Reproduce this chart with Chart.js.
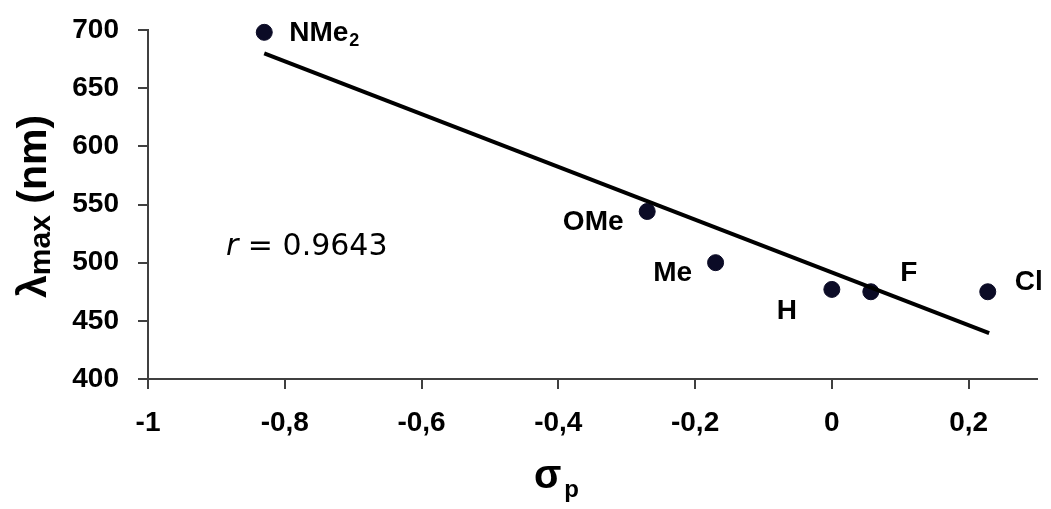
<!DOCTYPE html>
<html>
<head>
<meta charset="utf-8">
<script src="https://cdn.jsdelivr.net/npm/chart.js@4.4.0/dist/chart.umd.min.js"></script>
<style>
  body { margin: 0; background: #fff; }
  #wrap { width: 1051px; height: 509px; }
</style>
</head>
<body>
<div id="wrap"><canvas id="hammett" width="1051" height="509"></canvas></div>
<script>
const xTicks = [-1, -0.8, -0.6, -0.4, -0.2, 0, 0.2];
const yTicks = [400, 450, 500, 550, 600, 650, 700];
const substituents = ['NMe2', 'OMe', 'Me', 'H', 'F', 'Cl'];
const sigmaP = [-0.83, -0.27, -0.17, 0, 0.057, 0.228];
const lambdaMax = [698, 544, 500, 477, 475, 475];
const fitX = [-0.83, 0.23];
const fitY = [680, 439.5];
const rText = '0.9643';

const AXIS_COLOR = '#404040';
const FAMILY = '"Liberation Sans", Arial, sans-serif';
const BOLD = `bold 28px ${FAMILY}`;

// label offsets from the dot centre, in pixels
const labelOffsets = {
  NMe2: [25, 9, 'left'],
  OMe: [-54, 11, 'center'],
  Me: [-43, 11, 'center'],
  H: [-45, 22, 'center'],
  F: [38, -18, 'center'],
  Cl: [41, -9, 'center'],
};

function byId(id) {
  return document.getElementById(id);
}

function toComma(v) {
  return String(v).replace('.', ',');
}

const annotations = {
  id: 'annotations',
  afterDraw(chart) {
    const ctx = chart.ctx;
    const meta = chart.getDatasetMeta(1);
    ctx.save();
    ctx.fillStyle = '#000';

    // substituent labels
    substituents.forEach((name, i) => {
      const pt = meta.data[i];
      const [dx, dy, align] = labelOffsets[name];
      ctx.font = BOLD;
      if (name === 'NMe2') {
        ctx.textAlign = 'left';
        ctx.textBaseline = 'alphabetic';
        ctx.fillText('NMe', pt.x + dx, pt.y + dy);
        const w = ctx.measureText('NMe').width;
        ctx.font = `bold 18px ${FAMILY}`;
        ctx.fillText('2', pt.x + dx + w + 1, pt.y + dy + 5);
      } else {
        ctx.textAlign = align;
        ctx.textBaseline = 'middle';
        ctx.fillText(name, pt.x + dx, pt.y + dy);
      }
    });

    // correlation coefficient
    ctx.textAlign = 'left';
    ctx.textBaseline = 'middle';
    ctx.font = 'italic 30px "DejaVu Sans", sans-serif';
    ctx.fillText('r', 226, 247);
    const rw = ctx.measureText('r').width;
    ctx.font = '30px "DejaVu Sans", sans-serif';
    ctx.fillText(' = ' + rText, 226 + rw, 247);

    // x axis title
    ctx.textBaseline = 'alphabetic';
    ctx.font = `bold 40px ${FAMILY}`;
    ctx.fillText('σ', 534, 488);
    const sw = ctx.measureText('σ').width;
    ctx.font = `bold 24px ${FAMILY}`;
    ctx.fillText('p', 534 + sw + 3, 497);

    // y axis title
    ctx.translate(46, 298);
    ctx.rotate(-Math.PI / 2);
    ctx.font = `bold 41px ${FAMILY}`;
    ctx.fillText('λ', 0, 0);
    let x = ctx.measureText('λ').width;
    ctx.font = `bold 30px ${FAMILY}`;
    ctx.fillText('max', x, 4);
    x += ctx.measureText('max').width;
    ctx.font = `bold 41px ${FAMILY}`;
    ctx.fillText(' (nm)', x, 0);
    ctx.restore();
  },
};

const points = sigmaP.map((x, i) => ({ x, y: lambdaMax[i] }));
const fitLine = fitX.map((x, i) => ({ x, y: fitY[i] }));

const tickFont = { family: FAMILY, size: 28, weight: 'bold' };
const axisGrid = {
  drawOnChartArea: false,
  drawTicks: true,
  tickLength: 10,
  color: AXIS_COLOR,
  lineWidth: 2,
};

new Chart(byId('hammett'), {
  type: 'scatter',
  data: {
    datasets: [
      {
        label: 'fit',
        data: fitLine,
        showLine: true,
        borderColor: '#000',
        borderWidth: 4,
        pointRadius: 0,
        clip: false,
      },
      {
        label: 'lambda max',
        data: points,
        backgroundColor: '#0b0b26',
        borderColor: '#0b0b26',
        pointRadius: 8,
        pointHoverRadius: 8,
        clip: false,
      },
    ],
  },
  options: {
    responsive: false,
    animation: false,
    layout: { padding: { top: 30, right: 14, left: 0, bottom: 0 } },
    plugins: {
      legend: { display: false },
      tooltip: { enabled: false },
    },
    scales: {
      x: {
        type: 'linear',
        min: -1,
        max: 0.3,
        afterBuildTicks: (scale) => {
          scale.ticks = xTicks.map((value) => ({ value }));
        },
        afterFit: (scale) => {
          scale.height = 130;
          scale.paddingLeft = 0;
          scale.paddingRight = 0;
        },
        ticks: {
          color: '#000',
          font: tickFont,
          padding: 17,
          maxRotation: 0,
          callback: (v) => toComma(v),
        },
        grid: axisGrid,
        border: { display: true, color: AXIS_COLOR, width: 2 },
      },
      y: {
        type: 'linear',
        min: 400,
        max: 700,
        afterBuildTicks: (scale) => {
          scale.ticks = yTicks.map((value) => ({ value }));
        },
        afterFit: (scale) => {
          scale.width = 148;
          scale.paddingTop = 0;
          scale.paddingBottom = 0;
        },
        ticks: {
          color: '#000',
          font: tickFont,
          padding: 19,
        },
        grid: axisGrid,
        border: { display: true, color: AXIS_COLOR, width: 2 },
      },
    },
  },
  plugins: [annotations],
});
</script>
</body>
</html>
